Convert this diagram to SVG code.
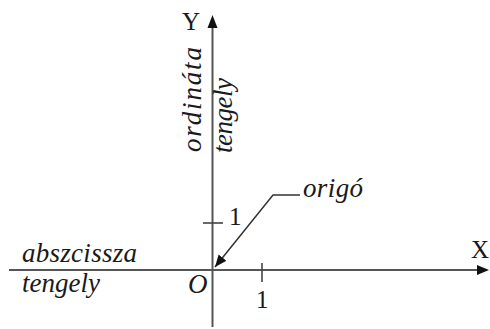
<svg xmlns="http://www.w3.org/2000/svg" width="490" height="329" viewBox="0 0 490 329">
<style>
.ax{stroke:#555;stroke-width:2;fill:none}
.tk{stroke:#444;stroke-width:1.6;fill:none}
.ld{stroke:#333;stroke-width:1.5;fill:none}
.t{font-family:"Liberation Serif","Times New Roman",serif;font-size:25px;fill:#1a1a1a}
.i{font-style:italic;font-size:27px}
</style>
<defs>
<marker id="ah" markerUnits="userSpaceOnUse" markerWidth="14" markerHeight="12" refX="12" refY="5" orient="auto">
<path d="M0,0 L12,5 L0,10 Z" fill="#111"/>
</marker>
</defs>
<rect width="490" height="329" fill="#fff"/>
<g id="connectors">
<line class="ax" x1="9" y1="270" x2="477" y2="270"/>
<path d="M477,265 L489,270 L477,275 Z" fill="#111"/>
<line class="ax" x1="212.5" y1="327" x2="212.5" y2="28"/>
<path d="M207.5,28 L212.5,15 L217.5,28 Z" fill="#111"/>
<line class="tk" x1="203" y1="223" x2="223" y2="223"/>
<line class="tk" x1="262" y1="263" x2="262" y2="282"/>
<polyline class="ld" points="300,195 273,195 215,267" marker-end="url(#ah)"/>
</g>
<g id="y-label"><text class="t" x="182" y="30">Y</text></g>
<g id="x-label"><text class="t" x="471" y="258">X</text></g>
<g id="ordinata"><text class="t i" transform="translate(201,152) rotate(-90)" textLength="105" lengthAdjust="spacing">ordináta</text></g>
<g id="ordinata-tengely"><text class="t i" transform="translate(232,153) rotate(-90)" textLength="75" lengthAdjust="spacing">tengely</text></g>
<g id="abszcissza"><text class="t i" x="22" y="262" textLength="115" lengthAdjust="spacing">abszcissza</text></g>
<g id="abszcissza-tengely"><text class="t i" x="22" y="292" textLength="78" lengthAdjust="spacing">tengely</text></g>
<g id="origo"><text class="t i" x="303" y="197" textLength="60" lengthAdjust="spacing">origó</text></g>
<g id="O"><text class="t i" x="188" y="293">O</text></g>
<g id="one-y"><text class="t" x="229" y="225">1</text></g>
<g id="one-x"><text class="t" x="256" y="308">1</text></g>
</svg>
